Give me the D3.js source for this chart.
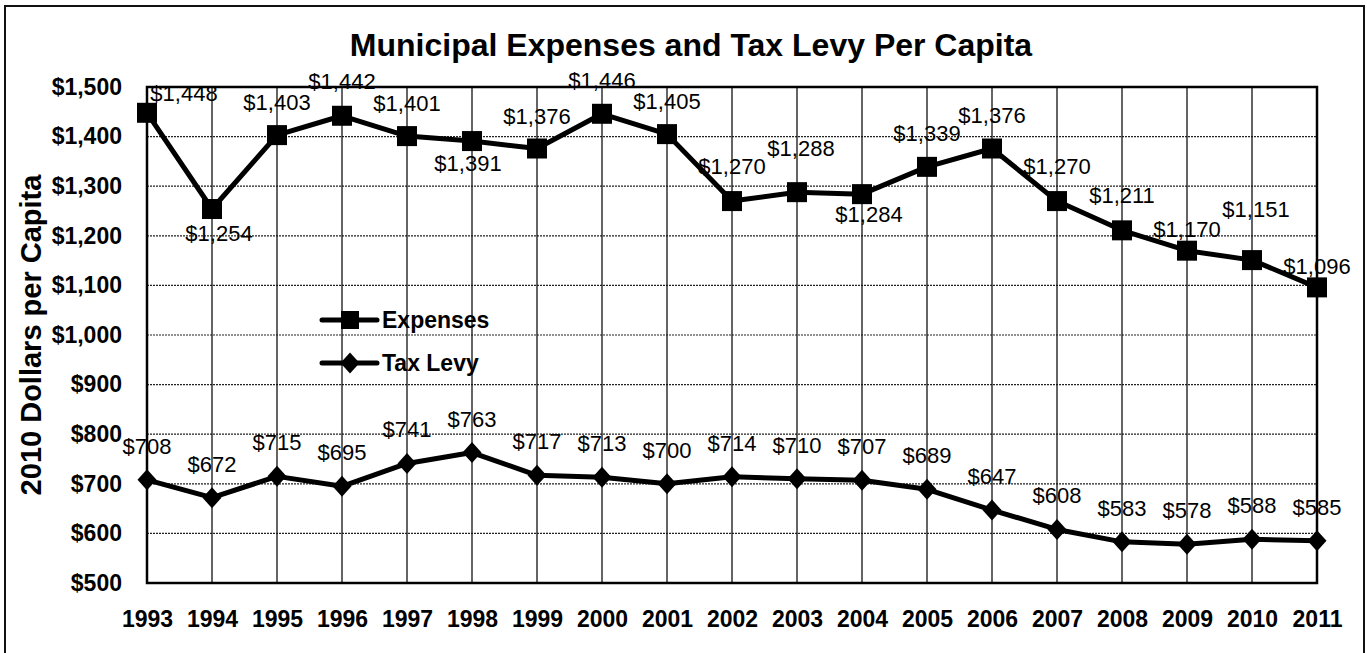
<!DOCTYPE html>
<html>
<head>
<meta charset="utf-8">
<script src="https://cdn.jsdelivr.net/npm/d3@7/dist/d3.min.js"></script>
<style>
  body { margin: 0; background: #fff; }
  svg { display: block; font-family: "Liberation Sans", Arial, sans-serif; }
</style>
</head>
<body>
<div id="chart"></div>
<script>
// data
const years = ['1993','1994','1995','1996','1997','1998','1999','2000','2001','2002',
               '2003','2004','2005','2006','2007','2008','2009','2010','2011'];
const expenses = [1448,1254,1403,1442,1401,1391,1376,1446,1405,1270,1288,1284,1339,1376,1270,1211,1170,1151,1096];
const taxLevy  = [708,672,715,695,741,763,717,713,700,714,710,707,689,647,608,583,578,588,585];
const yTicks = [500,600,700,800,900,1000,1100,1200,1300,1400,1500];
const seriesNames = ['Expenses', 'Tax Levy'];

// label nudges for expenses (dx, baseline dy relative to the marker)
const expLabelPos = [
  [37,-12],[7,32],[0,-25],[0,-27],[0,-25],[-4,30],[0,-25],[0,-26],[0,-25],[0,-27],
  [4,-36],[7,28],[0,-26],[0,-26],[0,-27],[0,-27],[0,-14],[4,-43],[0,-13]
];

const W = 1367, H = 653;
const margin = { top: 87, right: 50, bottom: 70, left: 147 };

const svg = d3.select('#chart').append('svg')
    .attr('width', W)
    .attr('height', H);

// outer frame
svg.append('rect')
    .attr('x', 5).attr('y', 6)
    .attr('width', 1359).attr('height', 660)
    .attr('fill', 'none')
    .attr('stroke', '#111')
    .attr('stroke-width', 2);

const x = d3.scalePoint()
    .domain(years)
    .range([margin.left, W - margin.right]);

const y = d3.scaleLinear()
    .domain([500, 1500])
    .range([H - margin.bottom, margin.top]);

// title
svg.append('text')
    .attr('x', 691).attr('y', 56)
    .attr('text-anchor', 'middle')
    .attr('font-size', 32)
    .attr('font-weight', 'bold')
    .text('Municipal Expenses and Tax Levy Per Capita');

// horizontal gridlines (dotted)
svg.append('g')
    .selectAll('line')
    .data(yTicks)
    .enter()
    .append('line')
    .attr('x1', x.range()[0]).attr('x2', x.range()[1])
    .attr('y1', d => y(d)).attr('y2', d => y(d))
    .attr('stroke', '#222')
    .attr('stroke-width', 1.2)
    .attr('stroke-dasharray', '2,1');

// vertical gridlines (solid)
svg.append('g')
    .selectAll('line')
    .data(years)
    .enter()
    .append('line')
    .attr('x1', d => x(d)).attr('x2', d => x(d))
    .attr('y1', y(1500)).attr('y2', y(500))
    .attr('stroke', '#111')
    .attr('stroke-width', 1.3);

// plot border
svg.append('rect')
    .attr('x', x.range()[0]).attr('y', y(1500))
    .attr('width', x.range()[1] - x.range()[0])
    .attr('height', y(500) - y(1500))
    .attr('fill', 'none')
    .attr('stroke', '#000')
    .attr('stroke-width', 2.5);

// axes
const yAxis = svg.append('g')
    .attr('transform', `translate(${margin.left},0)`)
    .call(d3.axisLeft(y).tickValues(yTicks).tickSize(0).tickPadding(25)
        .tickFormat(d => '$' + d3.format(',')(d)));
yAxis.select('.domain').remove();
yAxis.selectAll('text')
    .attr('font-size', 23)
    .attr('font-weight', 'bold')
    .attr('font-family', '"Liberation Sans", Arial, sans-serif')
    .attr('fill', '#000');

const xAxis = svg.append('g')
    .attr('transform', `translate(0,${y(500)})`)
    .call(d3.axisBottom(x).tickSize(0).tickPadding(28));
xAxis.select('.domain').remove();
xAxis.selectAll('text')
    .attr('font-size', 23)
    .attr('font-weight', 'bold')
    .attr('font-family', '"Liberation Sans", Arial, sans-serif')
    .attr('fill', '#000');

// y axis title
svg.append('text')
    .attr('transform', `translate(41,${(y(500) + y(1500)) / 2}) rotate(-90)`)
    .attr('text-anchor', 'middle')
    .attr('font-size', 29)
    .attr('font-weight', 'bold')
    .text('2010 Dollars per Capita');

// lines
const line = d3.line()
    .x((d, i) => x(years[i]))
    .y(d => y(d));

svg.append('path')
    .datum(expenses)
    .attr('d', line)
    .attr('fill', 'none')
    .attr('stroke', '#000')
    .attr('stroke-width', 5)
    .attr('stroke-linejoin', 'round');

svg.append('path')
    .datum(taxLevy)
    .attr('d', line)
    .attr('fill', 'none')
    .attr('stroke', '#000')
    .attr('stroke-width', 5)
    .attr('stroke-linejoin', 'round');

// markers
const sq = 20;
svg.append('g')
    .selectAll('rect')
    .data(expenses)
    .enter()
    .append('rect')
    .attr('x', (d, i) => x(years[i]) - sq / 2)
    .attr('y', d => y(d) - sq / 2)
    .attr('width', sq).attr('height', sq)
    .attr('fill', '#000');

const diamond = (cx, cy, w, h) =>
    `M${cx},${cy - h / 2}L${cx + w / 2},${cy}L${cx},${cy + h / 2}L${cx - w / 2},${cy}Z`;

svg.append('g')
    .selectAll('path')
    .data(taxLevy)
    .enter()
    .append('path')
    .attr('d', (d, i) => diamond(x(years[i]), y(d), 19, 21))
    .attr('fill', '#000');

// data labels
const fmt = d => '$' + d3.format(',')(d);

svg.append('g')
    .selectAll('text')
    .data(expenses)
    .enter()
    .append('text')
    .attr('x', (d, i) => x(years[i]) + expLabelPos[i][0])
    .attr('y', (d, i) => y(d) + expLabelPos[i][1])
    .attr('text-anchor', 'middle')
    .attr('font-size', 22)
    .text(fmt);

svg.append('g')
    .selectAll('text')
    .data(taxLevy)
    .enter()
    .append('text')
    .attr('x', (d, i) => x(years[i]))
    .attr('y', d => y(d) - 26)
    .attr('text-anchor', 'middle')
    .attr('font-size', 22)
    .text(fmt);

// legend
const legend = svg.append('g');
seriesNames.forEach((name, i) => {
    const ly = 320 + i * 43;
    legend.append('line')
        .attr('x1', 322).attr('x2', 377)
        .attr('y1', ly).attr('y2', ly)
        .attr('stroke', '#000')
        .attr('stroke-width', 5)
        .attr('stroke-linecap', 'round');
    if (i === 0) {
        legend.append('rect')
            .attr('x', 341).attr('y', ly - 9)
            .attr('width', 18).attr('height', 18)
            .attr('fill', '#000');
    } else {
        legend.append('path')
            .attr('d', diamond(350, ly, 19, 21))
            .attr('fill', '#000');
    }
    legend.append('text')
        .attr('x', 382).attr('y', ly + 8)
        .attr('font-size', 23)
        .attr('font-weight', 'bold')
        .text(name);
});
</script>
</body>
</html>
